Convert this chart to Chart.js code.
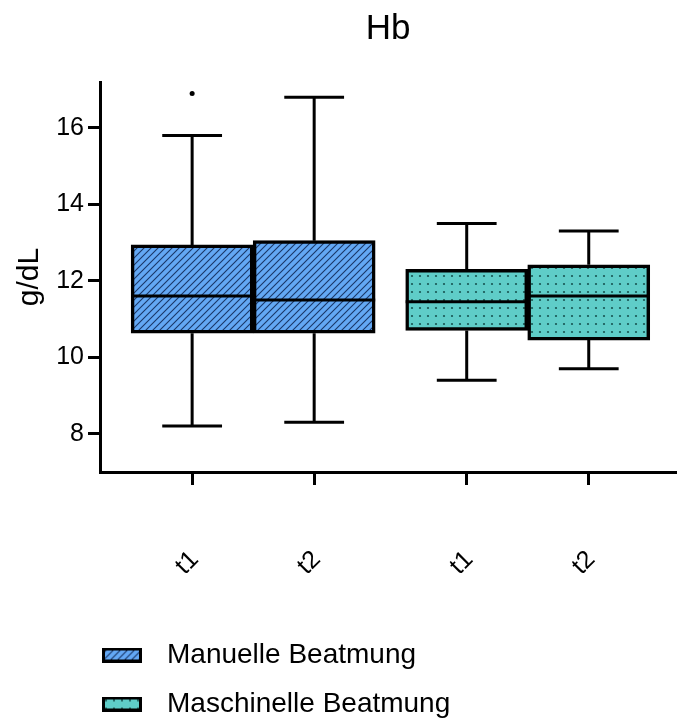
<!DOCTYPE html>
<html>
<head>
<meta charset="utf-8">
<script src="https://cdn.jsdelivr.net/npm/chart.js@4"></script>
<style>
  html, body { margin: 0; padding: 0; background: #fff; }
  #wrap { width: 680px; height: 718px; }
</style>
</head>
<body>
<div id="wrap"><canvas id="hbChart"></canvas></div>
<script>
const groups = ['Manuelle Beatmung', 'Maschinelle Beatmung'];
const timepoints = ['t1', 't2'];
const yTicks = [8, 10, 12, 14, 16];

// Manuelle Beatmung (t1, t2)
const manuelleMin = [8.2, 8.3];
const manuelleQ1 = [10.63, 10.63];
const manuelleMedian = [11.6, 11.5];
const manuelleQ3 = [12.94, 13.05];
const manuelleMax = [15.8, 16.8];
const manuelleOutliers = [[16.9], []];

// Maschinelle Beatmung (t1, t2)
const maschinelleMin = [9.4, 9.7];
const maschinelleQ1 = [10.7, 10.45];
const maschinelleMedian = [11.45, 11.6];
const maschinelleQ3 = [12.3, 12.42];
const maschinelleMax = [13.5, 13.3];
const maschinelleOutliers = [[], []];

const stats = [
  { min: manuelleMin, q1: manuelleQ1, med: manuelleMedian, q3: manuelleQ3, max: manuelleMax, out: manuelleOutliers },
  { min: maschinelleMin, q1: maschinelleQ1, med: maschinelleMedian, q3: maschinelleQ3, max: maschinelleMax, out: maschinelleOutliers }
];

// layout: boxes of a group touch, groups are a bit further apart
const GROUP_STEP = 2.25;
const CAP = 0.245;
const slot = (g, i) => 1 + i + g * GROUP_STEP;
const slots = groups.flatMap((_, g) => timepoints.map((_, i) => slot(g, i)));
const tickLabels = groups.flatMap(() => timepoints);

const FONT = "'Liberation Sans', Arial, Helvetica, sans-serif";
Chart.defaults.font.family = FONT;
Chart.defaults.color = '#000';

// fill tiles
function hatchTile() {
  const c = document.createElement('canvas');
  c.width = 7; c.height = 7;
  const g = c.getContext('2d');
  g.fillStyle = '#63a8f4';
  g.fillRect(0, 0, 7, 7);
  g.strokeStyle = '#1a3868';
  g.lineWidth = 1.1;
  g.beginPath();
  g.moveTo(-1, 8); g.lineTo(8, -1);
  g.moveTo(-1, 1); g.lineTo(1, -1);
  g.moveTo(6, 8); g.lineTo(8, 6);
  g.stroke();
  return c;
}
function dotTile() {
  const c = document.createElement('canvas');
  c.width = 8; c.height = 8;
  const g = c.getContext('2d');
  g.fillStyle = '#5fcdc8';
  g.fillRect(0, 0, 8, 8);
  g.fillStyle = '#185552';
  g.beginPath();
  g.arc(4, 4, 1.1, 0, Math.PI * 2);
  g.fill();
  return c;
}
const tiles = [hatchTile(), dotTile()];
const ctx = document.getElementById('hbChart').getContext('2d');
const fills = tiles.map(t => ctx.createPattern(t, 'repeat'));

function legendIcon(tile) {
  const c = document.createElement('canvas');
  c.width = 40; c.height = 15;
  const g = c.getContext('2d');
  g.fillStyle = g.createPattern(tile, 'repeat');
  g.fillRect(0, 0, 40, 15);
  g.strokeStyle = '#000';
  g.lineWidth = 3;
  g.strokeRect(1.5, 1.5, 37, 12);
  return c;
}
const icons = tiles.map(legendIcon);

const boxDatasets = groups.map((label, g) => ({
  type: 'bar',
  label: label,
  data: timepoints.map((t, i) => ({ x: slot(g, i), y: [stats[g].q1[i], stats[g].q3[i]] })),
  backgroundColor: fills[g],
  borderColor: '#000',
  borderWidth: 3.5,
  borderSkipped: false,
  grouped: false,
  barPercentage: 1,
  categoryPercentage: 1,
  pointStyle: icons[g],
  order: 2
}));

// whiskers, caps and medians as one broken line
const whiskerPts = [];
stats.forEach((s, g) => timepoints.forEach((t, i) => {
  const x = slot(g, i);
  const gap = { x: x, y: null };
  whiskerPts.push(
    { x: x - CAP, y: s.min[i] }, { x: x + CAP, y: s.min[i] }, gap,
    { x: x, y: s.min[i] }, { x: x, y: s.q1[i] }, gap,
    { x: x, y: s.q3[i] }, { x: x, y: s.max[i] }, gap,
    { x: x - CAP, y: s.max[i] }, { x: x + CAP, y: s.max[i] }, gap,
    { x: x - 0.5, y: s.med[i] }, { x: x + 0.5, y: s.med[i] }, gap
  );
}));

const outlierPts = [];
stats.forEach((s, g) => s.out.forEach((vals, i) => {
  vals.forEach(v => outlierPts.push({ x: slot(g, i), y: v }));
}));

const legendShift = {
  id: 'legendShift',
  afterLayout(chart) {
    const lg = chart.legend;
    const w = lg.width, h = lg.height;
    lg.left = 70; lg.right = 70 + w;
    lg.top = 620; lg.bottom = 620 + h;
  }
};

new Chart(ctx, {
  type: 'bar',
  data: {
    datasets: [
      ...boxDatasets,
      {
        type: 'line',
        label: 'whiskers',
        data: whiskerPts,
        borderColor: '#000',
        borderWidth: 3,
        borderCapStyle: 'butt',
        pointRadius: 0,
        fill: false,
        tension: 0,
        spanGaps: false,
        order: 0
      },
      {
        type: 'scatter',
        label: 'outliers',
        data: outlierPts,
        pointRadius: 2.5,
        pointBackgroundColor: '#000',
        pointBorderWidth: 0,
        order: 0
      }
    ]
  },
  options: {
    responsive: true,
    maintainAspectRatio: false,
    animation: false,
    layout: { padding: 0 },
    plugins: {
      title: {
        display: true,
        text: 'Hb',
        fullSize: false,
        color: '#000',
        font: { size: 35, weight: 'normal' },
        padding: { top: 8, bottom: 32 }
      },
      legend: {
        position: 'bottom',
        align: 'start',
        labels: {
          usePointStyle: true,
          pointStyleWidth: 62,
          padding: 21,
          color: '#000',
          font: { size: 28 },
          filter: item => item.datasetIndex < groups.length
        }
      },
      tooltip: { enabled: false }
    },
    scales: {
      x: {
        type: 'linear',
        min: 0.245,
        max: 4.965,
        offset: false,
        afterBuildTicks: s => { s.ticks = slots.map(v => ({ value: v })); },
        afterFit: s => { s.height = 138; },
        ticks: {
          callback: (v, i) => tickLabels[i],
          minRotation: 45,
          maxRotation: 45,
          autoSkip: false,
          padding: 60,
          labelOffset: 2.5,
          color: '#000',
          font: { size: 25 }
        },
        grid: { offset: false, drawOnChartArea: false, drawTicks: true, tickLength: 13, tickWidth: 3, tickColor: '#000' },
        border: { color: '#000', width: 3 }
      },
      y: {
        min: 7,
        max: 17.2,
        afterBuildTicks: s => { s.ticks = yTicks.map(v => ({ value: v })); },
        afterFit: s => { s.width = 100; },
        ticks: { padding: 4, color: '#000', font: { size: 25 } },
        grid: { drawOnChartArea: false, drawTicks: true, tickLength: 12, tickWidth: 3, tickColor: '#000' },
        border: { color: '#000', width: 3 },
        title: {
          display: true,
          text: 'g/dL',
          color: '#000',
          font: { size: 30 },
          padding: { top: 12, bottom: 0 }
        }
      }
    }
  },
  plugins: [legendShift]
});
</script>
</body>
</html>
